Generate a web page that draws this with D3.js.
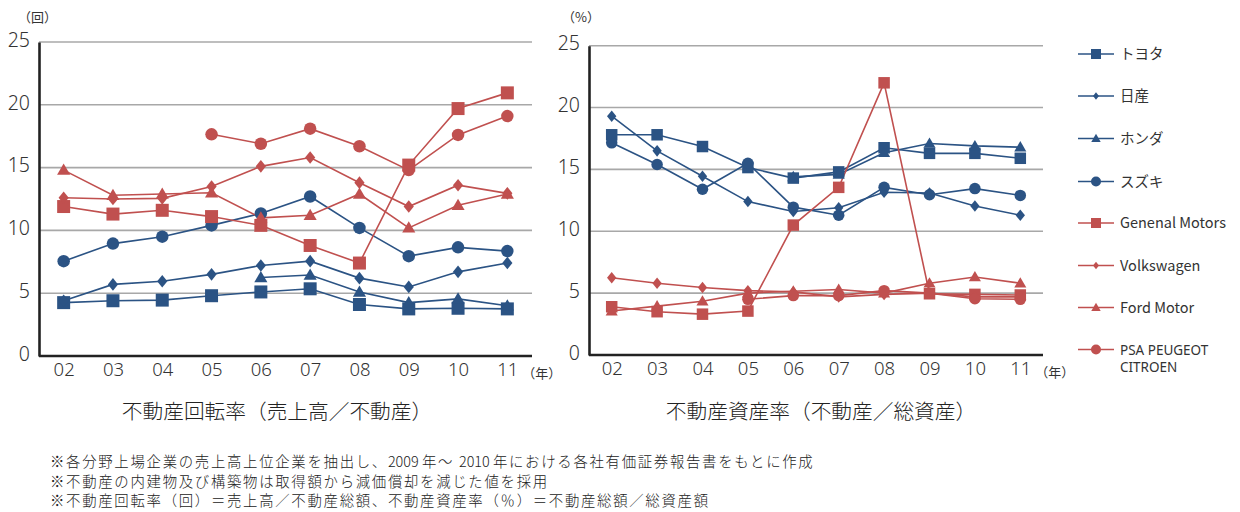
<!DOCTYPE html>
<html><head><meta charset="utf-8">
<script src="https://cdn.jsdelivr.net/npm/d3@7"></script>
<style>
html,body{margin:0;padding:0;background:#fff;}
svg{display:block;font-family:"Noto Sans CJK JP","Noto Sans",sans-serif;}
</style></head>
<body>
<svg id="c" width="1240" height="512"></svg>
<script>
// ---- data ----
const years = ["02","03","04","05","06","07","08","09","10","11"];
const yTicks = [0,5,10,15,20,25];
const seriesNames = ["トヨタ","日産","ホンダ","スズキ","Genenal Motors","Volkswagen","Ford Motor","PSA PEUGEOT|CITROEN"];
const seriesColors = ["blue","blue","blue","blue","red","red","red","red"];
const seriesShapes = ["square","diamond","triangle","circle","square","diamond","triangle","circle"];

// 不動産回転率（回）
const turnToyota = [4.25,4.4,4.45,4.8,5.1,5.35,4.1,3.75,3.8,3.75];
const turnNissan = [4.4,5.7,5.95,6.5,7.2,7.55,6.2,5.5,6.7,7.4];
const turnHonda  = [null,null,null,null,6.25,6.45,5.1,4.25,4.55,4.0];
const turnSuzuki = [7.55,8.95,9.5,10.4,11.35,12.7,10.2,7.95,8.65,8.35];
const turnGM     = [11.9,11.3,11.6,11.1,10.4,8.8,7.4,15.2,19.7,20.95];
const turnVW     = [12.6,12.5,12.55,13.5,15.1,15.8,13.8,11.9,13.6,12.95];
const turnFord   = [14.8,12.8,12.9,13.0,11.0,11.2,12.9,10.2,12.0,12.9];
const turnPSA    = [null,null,null,17.65,16.9,18.1,16.7,14.8,17.6,19.1];

// 不動産資産率（%）
const rateToyota = [17.8,17.8,16.85,15.15,14.3,14.8,16.75,16.3,16.3,15.9];
const rateNissan = [19.3,16.5,14.45,12.4,11.6,11.9,13.15,13.1,12.05,11.3];
const rateHonda  = [null,null,null,null,14.4,14.6,16.35,17.1,16.9,16.8];
const rateSuzuki = [17.15,15.4,13.4,15.5,11.95,11.3,13.55,12.95,13.45,12.9];
const rateGM     = [3.9,3.5,3.3,3.55,10.5,13.55,22.0,4.95,4.9,4.85];
const rateVW     = [6.25,5.8,5.45,5.2,5.1,4.7,4.9,5.0,4.7,4.7];
const rateFord   = [3.55,3.95,4.35,5.0,5.15,5.3,5.0,5.8,6.3,5.8];
const ratePSA    = [null,null,null,4.5,4.8,4.8,5.2,5.0,4.55,4.5];

const unitLeft = "（回）", unitRight = "（%）", yearUnit = "（年）";
const titleLeft = "不動産回転率（売上高／不動産）";
const titleRight = "不動産資産率（不動産／総資産）";
const notes = [
 "※各分野上場企業の売上高上位企業を抽出し、2009 年～ 2010 年における各社有価証券報告書をもとに作成",
 "※不動産の内建物及び構築物は取得額から減価償却を減じた値を採用",
 "※不動産回転率（回）＝売上高／不動産総額、不動産資産率（％）＝不動産総額／総資産額"
];

// ---- drawing ----
const COL = {blue:"#2b5384", red:"#c0504f"};
const svg = d3.select("#c");

function shapePath(shape, s){
  const h = s/2;
  if(shape==="square") return `M${-h},${-h}H${h}V${h}H${-h}Z`;
  if(shape==="diamond") return `M0,${-h*1.05}L${h*0.85},0L0,${h*1.05}L${-h*0.85},0Z`;
  if(shape==="triangle") return `M0,${-h*1.05}L${h*1.05},${h*0.75}L${-h*1.05},${h*0.75}Z`;
  const r = h;
  return `M${r},0A${r},${r},0,1,1,${-r},0A${r},${r},0,1,1,${r},0Z`;
}

function chart(cfg){
  const g = svg.append("g");
  const x = d3.scalePoint().domain(years).range([cfg.x0, cfg.x1]).padding(0.5);
  const y = d3.scaleLinear().domain([0,25]).range([cfg.y0, cfg.y1]);
  g.selectAll("line.grid").data(yTicks.filter(t=>t>0)).join("line")
    .attr("x1",cfg.x0).attr("x2",cfg.x1).attr("y1",d=>y(d)).attr("y2",d=>y(d))
    .attr("stroke","#a8a8a8").attr("stroke-width",1.6);
  const yAxis = d3.axisLeft(y).tickValues(yTicks).tickSize(0).tickPadding(9).tickFormat(d3.format("d"));
  const ya = g.append("g").attr("transform",`translate(${cfg.x0},0)`).call(yAxis);
  ya.select(".domain").attr("stroke","#222").attr("stroke-width",2.6);
  ya.selectAll("text").attr("font-size",19.5).attr("font-weight",300).attr("fill","#333").attr("dy","0.22em").attr("font-family","'Noto Sans','Noto Sans CJK JP',sans-serif");
  const xAxis = d3.axisBottom(x).tickSize(0).tickPadding(7);
  const xa = g.append("g").attr("transform",`translate(0,${cfg.y0})`).call(xAxis);
  xa.select(".domain").attr("stroke","#222").attr("stroke-width",2.4).attr("d",`M${cfg.x0},0H${cfg.x1}`);
  xa.selectAll("text").attr("font-size",18.5).attr("font-weight",300).attr("fill","#333").attr("font-family","'Noto Sans','Noto Sans CJK JP',sans-serif");
  g.append("text").attr("x",cfg.unitX).attr("y",22).attr("font-size",13).attr("fill","#333").text(cfg.unit);
  g.append("text").attr("x",x("11")+15).attr("y",cfg.y0+22).attr("font-size",13).attr("fill","#333").text(yearUnit);
  g.append("text").attr("x",cfg.titleX).attr("y",419).attr("text-anchor","middle")
    .attr("font-size",20.7).attr("font-weight",300).attr("fill","#222").text(cfg.title);
  const line = d3.line().defined(d=>d.v!=null).x(d=>x(d.k)).y(d=>y(d.v));
  cfg.data.forEach((vals,i)=>{
    const pts = years.map((k,j)=>({k, v: vals[j]}));
    g.append("path").attr("d",line(pts)).attr("fill","none").attr("stroke",COL[seriesColors[i]]).attr("stroke-width",1.6);
  });
  cfg.data.forEach((vals,i)=>{
    const pts = years.map((k,j)=>({k, v: vals[j]})).filter(d=>d.v!=null);
    const sh = seriesShapes[i];
    g.selectAll(null).data(pts).join("path")
      .attr("transform",d=>`translate(${x(d.k)},${y(d.v)})`)
      .attr("d",shapePath(sh, cfg.msize[sh]))
      .attr("fill",COL[seriesColors[i]]);
  });
}

chart({x0:39,x1:532,y0:356,y1:42,unit:unitLeft,unitX:18,title:titleLeft,titleX:277,
  msize:{square:13,diamond:12,triangle:12.5,circle:12.5},
  data:[turnToyota,turnNissan,turnHonda,turnSuzuki,turnGM,turnVW,turnFord,turnPSA]});
chart({x0:589,x1:1043,y0:355,y1:45.7,unit:unitRight,unitX:562,title:titleRight,titleX:821,
  msize:{square:11.5,diamond:11,triangle:11.5,circle:11.5},
  data:[rateToyota,rateNissan,rateHonda,rateSuzuki,rateGM,rateVW,rateFord,ratePSA]});

// legend
const lg = svg.append("g");
const legY = [54,96,138.5,181.5,223,265.5,307.5,349.5];
const legSize = {square:10,diamond:7,triangle:9,circle:10};
seriesNames.forEach((nm,i)=>{
  const c = COL[seriesColors[i]];
  const yy = legY[i];
  lg.append("line").attr("x1",1078).attr("x2",1114).attr("y1",yy).attr("y2",yy).attr("stroke",c).attr("stroke-width",1.6);
  lg.append("path").attr("transform",`translate(1096,${yy})`).attr("d",shapePath(seriesShapes[i],legSize[seriesShapes[i]])).attr("fill",c);
  const parts = nm.split("|");
  parts.forEach((p,j)=>{
    lg.append("text").attr("x",1120).attr("y",yy+5+j*17.5)
      .attr("font-size",parts.length>1?13.5:14.5).attr("fill","#333")
      .attr("font-family",parts.length>1?"'Noto Sans',sans-serif":"'Noto Sans CJK JP','Noto Sans',sans-serif")
      .text(p);
  });
});

// footnotes: digit runs drawn without extra letter spacing
const fn = svg.append("g").selectAll("text").data(notes).join("text")
  .attr("x",50).attr("y",(d,i)=>467+i*19.5).attr("font-size",14.4).attr("font-weight",300).attr("fill","#222");
fn.each(function(d){
  const t = d3.select(this);
  d.split(/(\d+ ?)/).filter(s=>s.length).forEach(s=>{
    t.append("tspan").attr("letter-spacing",/\d/.test(s)?0:1.7).text(s);
  });
});
</script>
</body></html>
